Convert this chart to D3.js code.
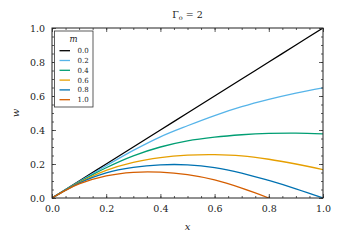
<!DOCTYPE html>
<html>
<head>
<meta charset="utf-8">
<script src="https://cdn.jsdelivr.net/npm/d3@7"></script>
<style>
  body { margin: 0; background: #fff; }
  svg text { font-family: "DejaVu Serif", "Liberation Serif", serif; fill: #222; }
</style>
</head>
<body>
<div id="container"></div>
<script>
const xValues = [0, 0.05, 0.1, 0.2, 0.3, 0.4, 0.5, 0.6, 0.7, 0.8, 0.9, 1.0];
// one array of w values per m
const mLabels = ["0.0", "0.2", "0.4", "0.6", "0.8", "1.0"];
const w00 = [0, 0.05, 0.1, 0.2, 0.3, 0.4, 0.5, 0.6, 0.7, 0.8, 0.9, 1.0];
const w02 = [0, 0.049, 0.097, 0.19, 0.28, 0.36, 0.425, 0.485, 0.537, 0.58, 0.617, 0.648];
const w04 = [0, 0.048, 0.094, 0.178, 0.248, 0.3, 0.336, 0.358, 0.372, 0.38, 0.382, 0.377];
const w06 = [0, 0.047, 0.091, 0.163, 0.21, 0.238, 0.252, 0.255, 0.248, 0.228, 0.2, 0.167];
const w08 = [0, 0.046, 0.088, 0.148, 0.18, 0.195, 0.195, 0.179, 0.147, 0.103, 0.054, 0];
const w10 = [0, 0.045, 0.083, 0.13, 0.151, 0.152, 0.137, 0.106, 0.058, 0, -0.065, -0.14];
const series = [w00, w02, w04, w06, w08, w10];
const colors = ["#000000", "#56b4e9", "#009e73", "#e69f00", "#0072b2", "#d55e00"];
const majorTicks = [0, 0.2, 0.4, 0.6, 0.8, 1.0];

const width = 343;
const height = 244;
const margin = {left: 52, right: 20, top: 28, bottom: 46};

const xScale = d3.scaleLinear()
    .domain([0, 1])
    .range([margin.left, width - margin.right]);
const yScale = d3.scaleLinear()
    .domain([0, 1])
    .range([height - margin.bottom, margin.top]);

const svg = d3.select("#container")
    .append("svg")
    .attr("width", width)
    .attr("height", height);

// clip so the m=1 curve stops at w=0
svg.append("clipPath")
    .attr("id", "plotClip")
    .append("rect")
    .attr("x", xScale(0))
    .attr("y", yScale(1))
    .attr("width", xScale(1) - xScale(0))
    .attr("height", yScale(0) - yScale(1));

const line = d3.line()
    .x((d, i) => xScale(xValues[i]))
    .y(d => yScale(d))
    .curve(d3.curveCatmullRom.alpha(0.5));

const curves = svg.append("g").attr("clip-path", "url(#plotClip)");
series.forEach((values, i) => {
    curves.append("path")
        .attr("d", line(values))
        .attr("fill", "none")
        .attr("stroke", colors[i])
        .attr("stroke-width", 1.3);
});

const minorTicks = d3.range(0, 1.0001, 0.05);

//ticks point inward on all four sides
function addAxis(axis, transform, size, ticks, labels) {
    const g = svg.append("g")
        .attr("transform", transform)
        .call(axis.tickValues(ticks).tickSize(size).tickPadding(7)
            .tickFormat(labels ? d3.format(".1f") : ""));
    g.attr("font-family", null);
    g.select(".domain").remove();
    g.selectAll("line").attr("stroke", "#333").attr("stroke-width", 0.8);
    g.selectAll("text").attr("font-size", "9.5px").attr("fill", "#222");
}
const atBottom = `translate(0,${yScale(0)})`;
const atTop = `translate(0,${yScale(1)})`;
const atLeft = `translate(${xScale(0)},0)`;
const atRight = `translate(${xScale(1)},0)`;
addAxis(d3.axisBottom(xScale), atBottom, -2, minorTicks, false);
addAxis(d3.axisBottom(xScale), atBottom, -4, majorTicks, true);
addAxis(d3.axisTop(xScale), atTop, -2, minorTicks, false);
addAxis(d3.axisTop(xScale), atTop, -4, majorTicks, false);
addAxis(d3.axisLeft(yScale), atLeft, -2, minorTicks, false);
addAxis(d3.axisLeft(yScale), atLeft, -4, majorTicks, true);
addAxis(d3.axisRight(yScale), atRight, -2, minorTicks, false);
addAxis(d3.axisRight(yScale), atRight, -4, majorTicks, false);

// frame
svg.append("rect")
    .attr("x", xScale(0))
    .attr("y", yScale(1))
    .attr("width", xScale(1) - xScale(0))
    .attr("height", yScale(0) - yScale(1))
    .attr("fill", "none")
    .attr("stroke", "#222")
    .attr("stroke-width", 1);

// title
const title = svg.append("text")
    .attr("x", (xScale(0) + xScale(1)) / 2)
    .attr("y", 18)
    .attr("text-anchor", "middle")
    .attr("font-size", "9.5px");
title.append("tspan").text("Γ");
title.append("tspan").attr("font-size", "6.5px").attr("dy", 2).text("o");
title.append("tspan").attr("dy", -2).text(" = 2");

// axis labels
svg.append("text")
    .attr("x", (xScale(0) + xScale(1)) / 2)
    .attr("y", 230)
    .attr("text-anchor", "middle")
    .attr("font-style", "italic")
    .attr("font-size", "10px")
    .text("x");
svg.append("text")
    .attr("transform", `translate(19,${(yScale(0) + yScale(1)) / 2}) rotate(-90)`)
    .attr("text-anchor", "middle")
    .attr("font-style", "italic")
    .attr("font-size", "10px")
    .text("w");

// legend
const legend = svg.append("g").attr("transform", "translate(54.5,31)");
legend.append("rect")
    .attr("width", 38.5)
    .attr("height", 76)
    .attr("fill", "white")
    .attr("stroke", "#333")
    .attr("stroke-width", 0.8);
legend.append("text")
    .attr("x", 19)
    .attr("y", 11)
    .attr("text-anchor", "middle")
    .attr("font-style", "italic")
    .attr("font-size", "8.5px")
    .text("m");
mLabels.forEach((label, i) => {
    const y = 19.7 + i * 9.8;
    legend.append("line")
        .attr("x1", 5).attr("x2", 15.5)
        .attr("y1", y).attr("y2", y)
        .attr("stroke", colors[i])
        .attr("stroke-width", 1.3);
    legend.append("text")
        .attr("x", 23)
        .attr("y", y + 2.5)
        .attr("font-size", "7px")
        .text(label);
});
</script>
</body>
</html>
